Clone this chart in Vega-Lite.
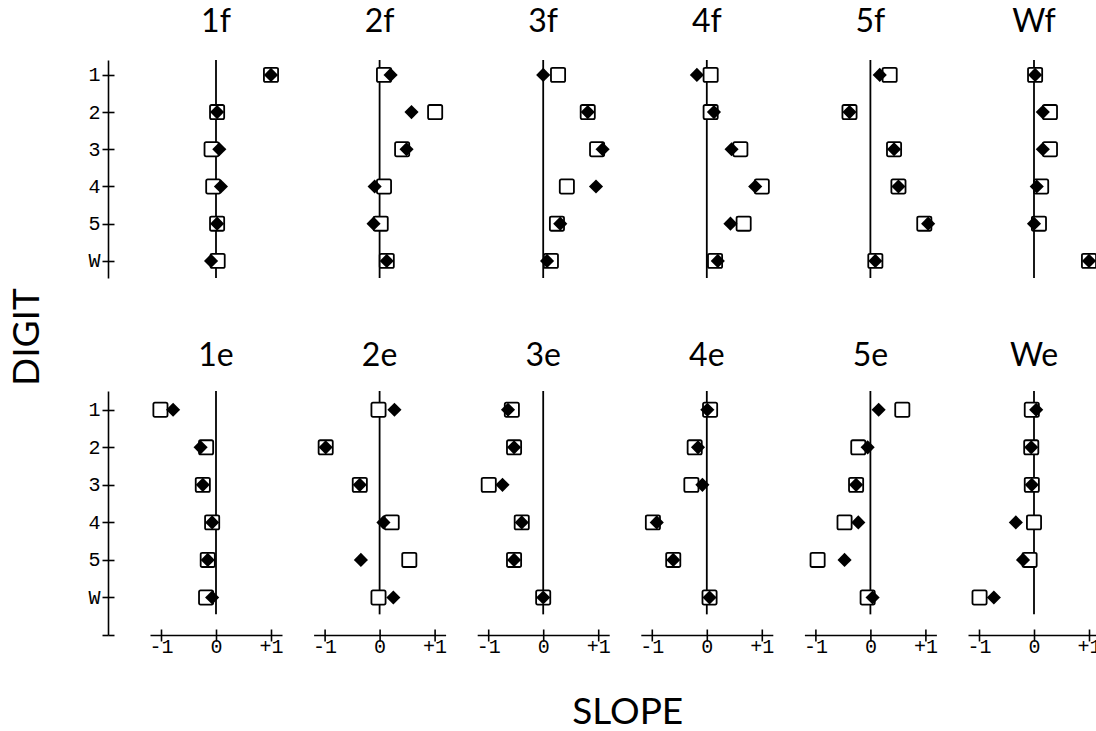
{
  "$schema": "https://vega.github.io/schema/vega-lite/v6.json",
  "padding": {"left": 8, "top": 6, "right": 0, "bottom": 0},
  "title": {"text": "DIGIT", "orient": "left", "anchor": "middle", "font": "Lato", "fontSize": 37, "fontWeight": "normal", "color": "black", "offset": 41, "dx": 31},
  "spacing": 61,
  "data": {"values": [
    {"panel": "1f", "digit": 1, "open": 1.0, "solid": 1.0},
    {"panel": "1f", "digit": 2, "open": 0.02, "solid": 0.02},
    {"panel": "1f", "digit": 3, "open": -0.08, "solid": 0.06},
    {"panel": "1f", "digit": 4, "open": -0.05, "solid": 0.09},
    {"panel": "1f", "digit": 5, "open": 0.02, "solid": 0.02},
    {"panel": "1f", "digit": 6, "open": 0.03, "solid": -0.09},
    {"panel": "2f", "digit": 1, "open": 0.08, "solid": 0.2},
    {"panel": "2f", "digit": 2, "open": 1.01, "solid": 0.58},
    {"panel": "2f", "digit": 3, "open": 0.41, "solid": 0.49},
    {"panel": "2f", "digit": 4, "open": 0.08, "solid": -0.09},
    {"panel": "2f", "digit": 5, "open": 0.02, "solid": -0.11},
    {"panel": "2f", "digit": 6, "open": 0.13, "solid": 0.13},
    {"panel": "3f", "digit": 1, "open": 0.27, "solid": 0.0},
    {"panel": "3f", "digit": 2, "open": 0.81, "solid": 0.81},
    {"panel": "3f", "digit": 3, "open": 0.98, "solid": 1.08},
    {"panel": "3f", "digit": 4, "open": 0.43, "solid": 0.96},
    {"panel": "3f", "digit": 5, "open": 0.25, "solid": 0.31},
    {"panel": "3f", "digit": 6, "open": 0.14, "solid": 0.07},
    {"panel": "4f", "digit": 1, "open": 0.07, "solid": -0.18},
    {"panel": "4f", "digit": 2, "open": 0.07, "solid": 0.13},
    {"panel": "4f", "digit": 3, "open": 0.61, "solid": 0.45},
    {"panel": "4f", "digit": 4, "open": 1.0, "solid": 0.88},
    {"panel": "4f", "digit": 5, "open": 0.67, "solid": 0.43},
    {"panel": "4f", "digit": 6, "open": 0.15, "solid": 0.2},
    {"panel": "5f", "digit": 1, "open": 0.35, "solid": 0.17},
    {"panel": "5f", "digit": 2, "open": -0.38, "solid": -0.38},
    {"panel": "5f", "digit": 3, "open": 0.43, "solid": 0.43},
    {"panel": "5f", "digit": 4, "open": 0.51, "solid": 0.51},
    {"panel": "5f", "digit": 5, "open": 0.98, "solid": 1.05},
    {"panel": "5f", "digit": 6, "open": 0.09, "solid": 0.09},
    {"panel": "Wf", "digit": 1, "open": 0.02, "solid": 0.02},
    {"panel": "Wf", "digit": 2, "open": 0.29, "solid": 0.16},
    {"panel": "Wf", "digit": 3, "open": 0.29, "solid": 0.16},
    {"panel": "Wf", "digit": 4, "open": 0.13, "solid": 0.05},
    {"panel": "Wf", "digit": 5, "open": 0.09, "solid": 0.0},
    {"panel": "Wf", "digit": 6, "open": 1.0, "solid": 1.0},
    {"panel": "1e", "digit": 1, "open": -1.01, "solid": -0.78},
    {"panel": "1e", "digit": 2, "open": -0.18, "solid": -0.28},
    {"panel": "1e", "digit": 3, "open": -0.24, "solid": -0.24},
    {"panel": "1e", "digit": 4, "open": -0.07, "solid": -0.07},
    {"panel": "1e", "digit": 5, "open": -0.15, "solid": -0.15},
    {"panel": "1e", "digit": 6, "open": -0.18, "solid": -0.07},
    {"panel": "2e", "digit": 1, "open": -0.02, "solid": 0.27},
    {"panel": "2e", "digit": 2, "open": -0.98, "solid": -0.98},
    {"panel": "2e", "digit": 3, "open": -0.36, "solid": -0.36},
    {"panel": "2e", "digit": 4, "open": 0.22, "solid": 0.07},
    {"panel": "2e", "digit": 5, "open": 0.54, "solid": -0.34},
    {"panel": "2e", "digit": 6, "open": -0.02, "solid": 0.25},
    {"panel": "3e", "digit": 1, "open": -0.57, "solid": -0.64},
    {"panel": "3e", "digit": 2, "open": -0.53, "solid": -0.53},
    {"panel": "3e", "digit": 3, "open": -0.99, "solid": -0.74},
    {"panel": "3e", "digit": 4, "open": -0.39, "solid": -0.39},
    {"panel": "3e", "digit": 5, "open": -0.53, "solid": -0.53},
    {"panel": "3e", "digit": 6, "open": 0.0, "solid": 0.0},
    {"panel": "4e", "digit": 1, "open": 0.06, "solid": 0.01},
    {"panel": "4e", "digit": 2, "open": -0.22, "solid": -0.16},
    {"panel": "4e", "digit": 3, "open": -0.28, "solid": -0.08},
    {"panel": "4e", "digit": 4, "open": -0.98, "solid": -0.91},
    {"panel": "4e", "digit": 5, "open": -0.61, "solid": -0.61},
    {"panel": "4e", "digit": 6, "open": 0.05, "solid": 0.05},
    {"panel": "5e", "digit": 1, "open": 0.58, "solid": 0.15},
    {"panel": "5e", "digit": 2, "open": -0.22, "solid": -0.05},
    {"panel": "5e", "digit": 3, "open": -0.26, "solid": -0.26},
    {"panel": "5e", "digit": 4, "open": -0.47, "solid": -0.22},
    {"panel": "5e", "digit": 5, "open": -0.96, "solid": -0.47},
    {"panel": "5e", "digit": 6, "open": -0.05, "solid": 0.04},
    {"panel": "We", "digit": 1, "open": -0.04, "solid": 0.04},
    {"panel": "We", "digit": 2, "open": -0.05, "solid": -0.05},
    {"panel": "We", "digit": 3, "open": -0.04, "solid": -0.04},
    {"panel": "We", "digit": 4, "open": 0.0, "solid": -0.33},
    {"panel": "We", "digit": 5, "open": -0.08, "solid": -0.2},
    {"panel": "We", "digit": 6, "open": -0.99, "solid": -0.73}
  ]},
  "config": {
    "view": {"stroke": null},
    "font": "Lato",
    "axis": {
      "grid": false,
      "domainColor": "black", "domainWidth": 1.6,
      "tickColor": "black", "tickWidth": 1.6, "tickSize": 6,
      "labelColor": "black", "labelFont": "Liberation Mono", "labelFontSize": 20,
      "titleColor": "black", "titleFont": "Lato", "titleFontWeight": "normal", "titleFontSize": 37
    },
    "title": {"font": "Lato", "fontSize": 32, "fontWeight": "normal", "color": "black", "anchor": "middle", "baseline": "alphabetic", "offset": 20},
    "rule": {"color": "black", "strokeWidth": 1.8},
    "point": {"opacity": 1}
  },
  "vconcat": [
    {
      "bounds": "flush",
      "spacing": 31.6,
      "hconcat": [
        {
          "title": "1f", "width": 132, "height": 218,
          "transform": [{"filter": "datum.panel == '1f'"}],
          "resolve": {"axis": {"y": "independent"}},
          "encoding": {"y": {"field": "digit", "type": "quantitative", "scale": {"domain": [0.6, 6.46], "nice": false, "zero": false, "reverse": true},
                             "axis": {"orient": "left", "values": [1, 2, 3, 4, 5, 6], "labelExpr": "datum.value == 6 ? 'W' : datum.label", "offset": 42, "title": null, "labelPadding": 2}}},
          "layer": [
            {"transform": [{"filter": "datum.digit == 1"}], "mark": "rule",
             "encoding": {
               "x": {"datum": 0, "type": "quantitative", "scale": {"domain": [-1.2, 1.2], "nice": false, "zero": false}, "axis": null},
               "y": {"datum": 0.6, "type": "quantitative", "axis": null},
               "y2": {"datum": 6.46}}},
            {"mark": {"type": "point", "shape": "M-0.78,-1L0.78,-1Q1,-1,1,-0.78L1,0.78Q1,1,0.78,1L-0.78,1Q-1,1,-1,0.78L-1,-0.78Q-1,-1,-0.78,-1Z", "filled": true, "fill": "white", "stroke": "black", "strokeWidth": 1.8, "size": 200},
             "encoding": {"x": {"field": "open", "type": "quantitative", "scale": {"domain": [-1.2, 1.2], "nice": false, "zero": false}, "axis": null}}},
            {"mark": {"type": "point", "shape": "diamond", "filled": true, "color": "black", "size": 200},
             "encoding": {"x": {"field": "solid", "type": "quantitative", "scale": {"domain": [-1.2, 1.2], "nice": false, "zero": false}, "axis": null},
                          "y": {"field": "digit", "type": "quantitative", "axis": {"orient": "left", "values": [1, 2, 3, 4, 5, 6], "offset": 42, "title": null, "labels": false, "domain": false, "tickSize": -6}}}}
          ]
        },
        {
          "title": "2f", "width": 132, "height": 218,
          "transform": [{"filter": "datum.panel == '2f'"}],
          "encoding": {"y": {"field": "digit", "type": "quantitative", "scale": {"domain": [0.6, 6.46], "nice": false, "zero": false, "reverse": true}, "axis": null}},
          "layer": [
            {"transform": [{"filter": "datum.digit == 1"}], "mark": "rule",
             "encoding": {
               "x": {"datum": 0, "type": "quantitative", "scale": {"domain": [-1.2, 1.2], "nice": false, "zero": false}, "axis": null},
               "y": {"datum": 0.6, "type": "quantitative", "axis": null},
               "y2": {"datum": 6.46}}},
            {"mark": {"type": "point", "shape": "M-0.78,-1L0.78,-1Q1,-1,1,-0.78L1,0.78Q1,1,0.78,1L-0.78,1Q-1,1,-1,0.78L-1,-0.78Q-1,-1,-0.78,-1Z", "filled": true, "fill": "white", "stroke": "black", "strokeWidth": 1.8, "size": 200},
             "encoding": {"x": {"field": "open", "type": "quantitative", "scale": {"domain": [-1.2, 1.2], "nice": false, "zero": false}, "axis": null}}},
            {"mark": {"type": "point", "shape": "diamond", "filled": true, "color": "black", "size": 200},
             "encoding": {"x": {"field": "solid", "type": "quantitative", "scale": {"domain": [-1.2, 1.2], "nice": false, "zero": false}, "axis": null}}}
          ]
        },
        {
          "title": "3f", "width": 132, "height": 218,
          "transform": [{"filter": "datum.panel == '3f'"}],
          "encoding": {"y": {"field": "digit", "type": "quantitative", "scale": {"domain": [0.6, 6.46], "nice": false, "zero": false, "reverse": true}, "axis": null}},
          "layer": [
            {"transform": [{"filter": "datum.digit == 1"}], "mark": "rule",
             "encoding": {
               "x": {"datum": 0, "type": "quantitative", "scale": {"domain": [-1.2, 1.2], "nice": false, "zero": false}, "axis": null},
               "y": {"datum": 0.6, "type": "quantitative", "axis": null},
               "y2": {"datum": 6.46}}},
            {"mark": {"type": "point", "shape": "M-0.78,-1L0.78,-1Q1,-1,1,-0.78L1,0.78Q1,1,0.78,1L-0.78,1Q-1,1,-1,0.78L-1,-0.78Q-1,-1,-0.78,-1Z", "filled": true, "fill": "white", "stroke": "black", "strokeWidth": 1.8, "size": 200},
             "encoding": {"x": {"field": "open", "type": "quantitative", "scale": {"domain": [-1.2, 1.2], "nice": false, "zero": false}, "axis": null}}},
            {"mark": {"type": "point", "shape": "diamond", "filled": true, "color": "black", "size": 200},
             "encoding": {"x": {"field": "solid", "type": "quantitative", "scale": {"domain": [-1.2, 1.2], "nice": false, "zero": false}, "axis": null}}}
          ]
        },
        {
          "title": "4f", "width": 132, "height": 218,
          "transform": [{"filter": "datum.panel == '4f'"}],
          "encoding": {"y": {"field": "digit", "type": "quantitative", "scale": {"domain": [0.6, 6.46], "nice": false, "zero": false, "reverse": true}, "axis": null}},
          "layer": [
            {"transform": [{"filter": "datum.digit == 1"}], "mark": "rule",
             "encoding": {
               "x": {"datum": 0, "type": "quantitative", "scale": {"domain": [-1.2, 1.2], "nice": false, "zero": false}, "axis": null},
               "y": {"datum": 0.6, "type": "quantitative", "axis": null},
               "y2": {"datum": 6.46}}},
            {"mark": {"type": "point", "shape": "M-0.78,-1L0.78,-1Q1,-1,1,-0.78L1,0.78Q1,1,0.78,1L-0.78,1Q-1,1,-1,0.78L-1,-0.78Q-1,-1,-0.78,-1Z", "filled": true, "fill": "white", "stroke": "black", "strokeWidth": 1.8, "size": 200},
             "encoding": {"x": {"field": "open", "type": "quantitative", "scale": {"domain": [-1.2, 1.2], "nice": false, "zero": false}, "axis": null}}},
            {"mark": {"type": "point", "shape": "diamond", "filled": true, "color": "black", "size": 200},
             "encoding": {"x": {"field": "solid", "type": "quantitative", "scale": {"domain": [-1.2, 1.2], "nice": false, "zero": false}, "axis": null}}}
          ]
        },
        {
          "title": "5f", "width": 132, "height": 218,
          "transform": [{"filter": "datum.panel == '5f'"}],
          "encoding": {"y": {"field": "digit", "type": "quantitative", "scale": {"domain": [0.6, 6.46], "nice": false, "zero": false, "reverse": true}, "axis": null}},
          "layer": [
            {"transform": [{"filter": "datum.digit == 1"}], "mark": "rule",
             "encoding": {
               "x": {"datum": 0, "type": "quantitative", "scale": {"domain": [-1.2, 1.2], "nice": false, "zero": false}, "axis": null},
               "y": {"datum": 0.6, "type": "quantitative", "axis": null},
               "y2": {"datum": 6.46}}},
            {"mark": {"type": "point", "shape": "M-0.78,-1L0.78,-1Q1,-1,1,-0.78L1,0.78Q1,1,0.78,1L-0.78,1Q-1,1,-1,0.78L-1,-0.78Q-1,-1,-0.78,-1Z", "filled": true, "fill": "white", "stroke": "black", "strokeWidth": 1.8, "size": 200},
             "encoding": {"x": {"field": "open", "type": "quantitative", "scale": {"domain": [-1.2, 1.2], "nice": false, "zero": false}, "axis": null}}},
            {"mark": {"type": "point", "shape": "diamond", "filled": true, "color": "black", "size": 200},
             "encoding": {"x": {"field": "solid", "type": "quantitative", "scale": {"domain": [-1.2, 1.2], "nice": false, "zero": false}, "axis": null}}}
          ]
        },
        {
          "title": "Wf", "width": 132, "height": 218,
          "transform": [{"filter": "datum.panel == 'Wf'"}],
          "encoding": {"y": {"field": "digit", "type": "quantitative", "scale": {"domain": [0.6, 6.46], "nice": false, "zero": false, "reverse": true}, "axis": null}},
          "layer": [
            {"transform": [{"filter": "datum.digit == 1"}], "mark": "rule",
             "encoding": {
               "x": {"datum": 0, "type": "quantitative", "scale": {"domain": [-1.2, 1.2], "nice": false, "zero": false}, "axis": null},
               "y": {"datum": 0.6, "type": "quantitative", "axis": null},
               "y2": {"datum": 6.46}}},
            {"mark": {"type": "point", "shape": "M-0.78,-1L0.78,-1Q1,-1,1,-0.78L1,0.78Q1,1,0.78,1L-0.78,1Q-1,1,-1,0.78L-1,-0.78Q-1,-1,-0.78,-1Z", "filled": true, "fill": "white", "stroke": "black", "strokeWidth": 1.8, "size": 200},
             "encoding": {"x": {"field": "open", "type": "quantitative", "scale": {"domain": [-1.2, 1.2], "nice": false, "zero": false}, "axis": null}}},
            {"mark": {"type": "point", "shape": "diamond", "filled": true, "color": "black", "size": 200},
             "encoding": {"x": {"field": "solid", "type": "quantitative", "scale": {"domain": [-1.2, 1.2], "nice": false, "zero": false}, "axis": null}}}
          ]
        }
      ]
    },
    {
      "bounds": "flush",
      "spacing": 31.6,
      "hconcat": [
        {
          "title": {"text": "1e", "offset": 17}, "width": 132, "height": 244,
          "transform": [{"filter": "datum.panel == '1e'"}],
          "resolve": {"axis": {"x": "independent", "y": "independent"}},
          "encoding": {"y": {"field": "digit", "type": "quantitative", "scale": {"domain": [0.5, 7], "nice": false, "zero": false, "reverse": true},
                             "axis": {"orient": "left", "values": [1, 2, 3, 4, 5, 6, 7], "labelExpr": "datum.value == 6 ? 'W' : datum.value == 7 ? '' : datum.label", "offset": 42, "title": null, "labelPadding": 2}}},
          "layer": [
            {"transform": [{"filter": "datum.digit == 1"}], "mark": "rule",
             "encoding": {
               "x": {"datum": 0, "type": "quantitative", "scale": {"domain": [-1.2, 1.2], "nice": false, "zero": false}, "axis": null},
               "y": {"datum": 0.5, "type": "quantitative", "axis": null},
               "y2": {"datum": 6.45}}},
            {"mark": {"type": "point", "shape": "M-0.78,-1L0.78,-1Q1,-1,1,-0.78L1,0.78Q1,1,0.78,1L-0.78,1Q-1,1,-1,0.78L-1,-0.78Q-1,-1,-0.78,-1Z", "filled": true, "fill": "white", "stroke": "black", "strokeWidth": 1.8, "size": 200},
             "encoding": {"x": {"field": "open", "type": "quantitative", "scale": {"domain": [-1.2, 1.2], "nice": false, "zero": false},
                                "axis": {"orient": "bottom", "values": [-1, 0, 1], "labelExpr": "datum.value == -1 ? '-1' : datum.value == 1 ? '+1' : '0'", "title": null, "labelPadding": -5}}}},
            {"mark": {"type": "point", "shape": "diamond", "filled": true, "color": "black", "size": 200},
             "encoding": {"x": {"field": "solid", "type": "quantitative", "scale": {"domain": [-1.2, 1.2], "nice": false, "zero": false},
                                "axis": {"orient": "bottom", "values": [-1, 0, 1], "title": null, "labels": false, "domain": false, "tickSize": -6}},
                          "y": {"field": "digit", "type": "quantitative", "axis": {"orient": "left", "values": [1, 2, 3, 4, 5, 6, 7], "offset": 42, "title": null, "labels": false, "domain": false, "tickSize": -6}}}}
          ]
        },
        {
          "title": {"text": "2e", "offset": 17}, "width": 132, "height": 244,
          "transform": [{"filter": "datum.panel == '2e'"}],
          "resolve": {"axis": {"x": "independent"}},
          "encoding": {"y": {"field": "digit", "type": "quantitative", "scale": {"domain": [0.5, 7], "nice": false, "zero": false, "reverse": true}, "axis": null}},
          "layer": [
            {"transform": [{"filter": "datum.digit == 1"}], "mark": "rule",
             "encoding": {
               "x": {"datum": 0, "type": "quantitative", "scale": {"domain": [-1.2, 1.2], "nice": false, "zero": false}, "axis": null},
               "y": {"datum": 0.5, "type": "quantitative", "axis": null},
               "y2": {"datum": 6.45}}},
            {"mark": {"type": "point", "shape": "M-0.78,-1L0.78,-1Q1,-1,1,-0.78L1,0.78Q1,1,0.78,1L-0.78,1Q-1,1,-1,0.78L-1,-0.78Q-1,-1,-0.78,-1Z", "filled": true, "fill": "white", "stroke": "black", "strokeWidth": 1.8, "size": 200},
             "encoding": {"x": {"field": "open", "type": "quantitative", "scale": {"domain": [-1.2, 1.2], "nice": false, "zero": false},
                                "axis": {"orient": "bottom", "values": [-1, 0, 1], "labelExpr": "datum.value == -1 ? '-1' : datum.value == 1 ? '+1' : '0'", "title": null, "labelPadding": -5}}}},
            {"mark": {"type": "point", "shape": "diamond", "filled": true, "color": "black", "size": 200},
             "encoding": {"x": {"field": "solid", "type": "quantitative", "scale": {"domain": [-1.2, 1.2], "nice": false, "zero": false},
                                "axis": {"orient": "bottom", "values": [-1, 0, 1], "title": null, "labels": false, "domain": false, "tickSize": -6}}}}
          ]
        },
        {
          "title": {"text": "3e", "offset": 17}, "width": 132, "height": 244,
          "transform": [{"filter": "datum.panel == '3e'"}],
          "resolve": {"axis": {"x": "independent"}},
          "encoding": {"y": {"field": "digit", "type": "quantitative", "scale": {"domain": [0.5, 7], "nice": false, "zero": false, "reverse": true}, "axis": null}},
          "layer": [
            {"transform": [{"filter": "datum.digit == 1"}], "mark": "rule",
             "encoding": {
               "x": {"datum": 0, "type": "quantitative", "scale": {"domain": [-1.2, 1.2], "nice": false, "zero": false}, "axis": null},
               "y": {"datum": 0.5, "type": "quantitative", "axis": null},
               "y2": {"datum": 6.45}}},
            {"mark": {"type": "point", "shape": "M-0.78,-1L0.78,-1Q1,-1,1,-0.78L1,0.78Q1,1,0.78,1L-0.78,1Q-1,1,-1,0.78L-1,-0.78Q-1,-1,-0.78,-1Z", "filled": true, "fill": "white", "stroke": "black", "strokeWidth": 1.8, "size": 200},
             "encoding": {"x": {"field": "open", "type": "quantitative", "scale": {"domain": [-1.2, 1.2], "nice": false, "zero": false},
                                "axis": {"orient": "bottom", "values": [-1, 0, 1], "labelExpr": "datum.value == -1 ? '-1' : datum.value == 1 ? '+1' : '0'", "labelPadding": -5,
                                         "title": "SLOPE", "titleX": 150, "titleY": 88, "titleBaseline": "alphabetic", "titleAlign": "center"}}}},
            {"mark": {"type": "point", "shape": "diamond", "filled": true, "color": "black", "size": 200},
             "encoding": {"x": {"field": "solid", "type": "quantitative", "scale": {"domain": [-1.2, 1.2], "nice": false, "zero": false},
                                "axis": {"orient": "bottom", "values": [-1, 0, 1], "title": null, "labels": false, "domain": false, "tickSize": -6}}}}
          ]
        },
        {
          "title": {"text": "4e", "offset": 17}, "width": 132, "height": 244,
          "transform": [{"filter": "datum.panel == '4e'"}],
          "resolve": {"axis": {"x": "independent"}},
          "encoding": {"y": {"field": "digit", "type": "quantitative", "scale": {"domain": [0.5, 7], "nice": false, "zero": false, "reverse": true}, "axis": null}},
          "layer": [
            {"transform": [{"filter": "datum.digit == 1"}], "mark": "rule",
             "encoding": {
               "x": {"datum": 0, "type": "quantitative", "scale": {"domain": [-1.2, 1.2], "nice": false, "zero": false}, "axis": null},
               "y": {"datum": 0.5, "type": "quantitative", "axis": null},
               "y2": {"datum": 6.45}}},
            {"mark": {"type": "point", "shape": "M-0.78,-1L0.78,-1Q1,-1,1,-0.78L1,0.78Q1,1,0.78,1L-0.78,1Q-1,1,-1,0.78L-1,-0.78Q-1,-1,-0.78,-1Z", "filled": true, "fill": "white", "stroke": "black", "strokeWidth": 1.8, "size": 200},
             "encoding": {"x": {"field": "open", "type": "quantitative", "scale": {"domain": [-1.2, 1.2], "nice": false, "zero": false},
                                "axis": {"orient": "bottom", "values": [-1, 0, 1], "labelExpr": "datum.value == -1 ? '-1' : datum.value == 1 ? '+1' : '0'", "title": null, "labelPadding": -5}}}},
            {"mark": {"type": "point", "shape": "diamond", "filled": true, "color": "black", "size": 200},
             "encoding": {"x": {"field": "solid", "type": "quantitative", "scale": {"domain": [-1.2, 1.2], "nice": false, "zero": false},
                                "axis": {"orient": "bottom", "values": [-1, 0, 1], "title": null, "labels": false, "domain": false, "tickSize": -6}}}}
          ]
        },
        {
          "title": {"text": "5e", "offset": 17}, "width": 132, "height": 244,
          "transform": [{"filter": "datum.panel == '5e'"}],
          "resolve": {"axis": {"x": "independent"}},
          "encoding": {"y": {"field": "digit", "type": "quantitative", "scale": {"domain": [0.5, 7], "nice": false, "zero": false, "reverse": true}, "axis": null}},
          "layer": [
            {"transform": [{"filter": "datum.digit == 1"}], "mark": "rule",
             "encoding": {
               "x": {"datum": 0, "type": "quantitative", "scale": {"domain": [-1.2, 1.2], "nice": false, "zero": false}, "axis": null},
               "y": {"datum": 0.5, "type": "quantitative", "axis": null},
               "y2": {"datum": 6.45}}},
            {"mark": {"type": "point", "shape": "M-0.78,-1L0.78,-1Q1,-1,1,-0.78L1,0.78Q1,1,0.78,1L-0.78,1Q-1,1,-1,0.78L-1,-0.78Q-1,-1,-0.78,-1Z", "filled": true, "fill": "white", "stroke": "black", "strokeWidth": 1.8, "size": 200},
             "encoding": {"x": {"field": "open", "type": "quantitative", "scale": {"domain": [-1.2, 1.2], "nice": false, "zero": false},
                                "axis": {"orient": "bottom", "values": [-1, 0, 1], "labelExpr": "datum.value == -1 ? '-1' : datum.value == 1 ? '+1' : '0'", "title": null, "labelPadding": -5}}}},
            {"mark": {"type": "point", "shape": "diamond", "filled": true, "color": "black", "size": 200},
             "encoding": {"x": {"field": "solid", "type": "quantitative", "scale": {"domain": [-1.2, 1.2], "nice": false, "zero": false},
                                "axis": {"orient": "bottom", "values": [-1, 0, 1], "title": null, "labels": false, "domain": false, "tickSize": -6}}}}
          ]
        },
        {
          "title": {"text": "We", "offset": 17}, "width": 132, "height": 244,
          "transform": [{"filter": "datum.panel == 'We'"}],
          "resolve": {"axis": {"x": "independent"}},
          "encoding": {"y": {"field": "digit", "type": "quantitative", "scale": {"domain": [0.5, 7], "nice": false, "zero": false, "reverse": true}, "axis": null}},
          "layer": [
            {"transform": [{"filter": "datum.digit == 1"}], "mark": "rule",
             "encoding": {
               "x": {"datum": 0, "type": "quantitative", "scale": {"domain": [-1.2, 1.2], "nice": false, "zero": false}, "axis": null},
               "y": {"datum": 0.5, "type": "quantitative", "axis": null},
               "y2": {"datum": 6.45}}},
            {"mark": {"type": "point", "shape": "M-0.78,-1L0.78,-1Q1,-1,1,-0.78L1,0.78Q1,1,0.78,1L-0.78,1Q-1,1,-1,0.78L-1,-0.78Q-1,-1,-0.78,-1Z", "filled": true, "fill": "white", "stroke": "black", "strokeWidth": 1.8, "size": 200},
             "encoding": {"x": {"field": "open", "type": "quantitative", "scale": {"domain": [-1.2, 1.2], "nice": false, "zero": false},
                                "axis": {"orient": "bottom", "values": [-1, 0, 1], "labelExpr": "datum.value == -1 ? '-1' : datum.value == 1 ? '+1' : '0'", "title": null, "labelPadding": -5}}}},
            {"mark": {"type": "point", "shape": "diamond", "filled": true, "color": "black", "size": 200},
             "encoding": {"x": {"field": "solid", "type": "quantitative", "scale": {"domain": [-1.2, 1.2], "nice": false, "zero": false},
                                "axis": {"orient": "bottom", "values": [-1, 0, 1], "title": null, "labels": false, "domain": false, "tickSize": -6}}}}
          ]
        }
      ]
    }
  ]
}
